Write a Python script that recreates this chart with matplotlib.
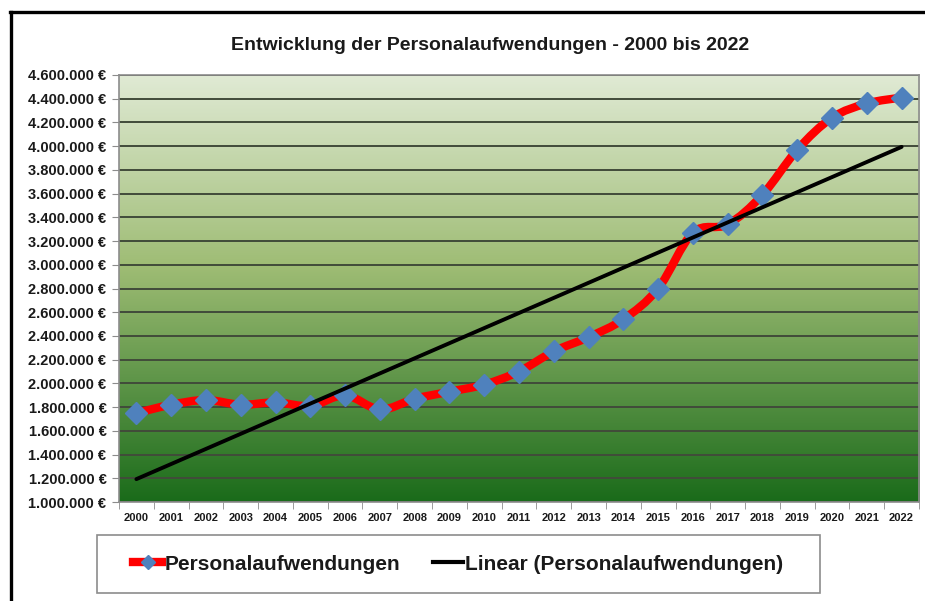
import numpy as np
import matplotlib
matplotlib.use("Agg")
import matplotlib.pyplot as plt
from matplotlib.path import Path
from matplotlib.patches import PathPatch, Rectangle
from matplotlib.lines import Line2D
from matplotlib.colors import LinearSegmentedColormap
from matplotlib.ticker import FuncFormatter, MultipleLocator

plt.rcParams['font.family'] = ['Liberation Sans', 'DejaVu Sans']

# Data
years = [str(y) for y in range(2000, 2023)]
costs = [1750000, 1820000, 1860000, 1820000, 1840000, 1810000, 1900000,
         1780000, 1870000, 1930000, 1990000, 2100000, 2270000, 2390000,
         2540000, 2800000, 3270000, 3340000, 3590000, 3970000, 4240000,
         4360000, 4410000]
series_name = "Personalaufwendungen"
trend_name = "Linear (Personalaufwendungen)"
title = "Entwicklung der Personalaufwendungen - 2000 bis 2022"


def smooth_path(xs, ys):
    """Excel-like smoothed line as cubic Bezier path (Catmull-Rom)."""
    pts = np.column_stack([xs, ys]).astype(float)
    n = len(pts)
    verts = [pts[0]]
    codes = [Path.MOVETO]
    for i in range(n - 1):
        p0 = pts[i - 1] if i > 0 else pts[i]
        p1 = pts[i]
        p2 = pts[i + 1]
        p3 = pts[i + 2] if i + 2 < n else pts[i + 1]
        c1 = p1 + (p2 - p0) / 6.0
        c2 = p2 - (p3 - p1) / 6.0
        verts += [c1, c2, p2]
        codes += [Path.CURVE4] * 3
    return Path(verts, codes)


fig = plt.figure(figsize=(9.25, 6.01), dpi=100)
ax = fig.add_axes([119 / 925, 1 - 502 / 601, 800 / 925, 427 / 601])

x = np.arange(len(years))
vals = np.array(costs, dtype=float)

# gradient background
cmap = LinearSegmentedColormap.from_list(
    "bg", [(0.0, "#1a6b1a"), (0.55, "#9ebc74"), (1.0, "#e0ead4")])
grad = np.linspace(0, 1, 256).reshape(-1, 1)
ax.imshow(grad, cmap=cmap, aspect="auto", origin="lower",
          extent=(0, 1, 0, 1), transform=ax.transAxes, zorder=0)

ax.set_xlim(-0.5, len(years) - 0.5)
ax.set_ylim(1000000, 4600000)

# grid
ax.yaxis.set_major_locator(MultipleLocator(200000))
ax.grid(axis="y", color="#414b3a", linewidth=1.4, zorder=1)
ax.set_axisbelow(True)

# data line (smoothed) + markers
patch = PathPatch(smooth_path(x, vals), facecolor="none", edgecolor="#ff0000",
                  linewidth=6, capstyle="round", joinstyle="round", zorder=3)
ax.add_patch(patch)
ax.plot(x, vals, linestyle="none", marker="D", markersize=11,
        color="#4f81bd", zorder=4)

# linear trend
k, d = np.polyfit(x, vals, 1)
ax.plot(x, k * x + d, color="black", linewidth=2.8, zorder=5,
        solid_capstyle="round")

# axes formatting
ax.yaxis.set_major_formatter(
    FuncFormatter(lambda v, p: f"{v:,.0f} €".replace(",", ".")))
ax.set_xticks(x)
ax.set_xticklabels(years)
ax.set_xticks(np.arange(-0.5, len(years), 1), minor=True)
ax.tick_params(axis="x", which="major", length=0, pad=8,
               labelsize=8, labelcolor="#1a1a1a")
ax.tick_params(axis="x", which="minor", length=5, color="#8c8c8c",
               direction="out")
ax.tick_params(axis="y", length=5, color="#8c8c8c", direction="out",
               labelsize=10.5, labelcolor="#1a1a1a", pad=4)
for lab in ax.get_xticklabels() + ax.get_yticklabels():
    lab.set_fontweight("bold")
for sp in ax.spines.values():
    sp.set_color("#8c8c8c")
    sp.set_linewidth(1.2)

# title
fig.text(490 / 925, 1 - 45 / 601, title, ha="center", va="center",
         fontsize=14, fontweight="bold", color="#1a1a1a")

# legend box
fig.patches.append(Rectangle((97 / 925, 1 - 593 / 601), 723 / 925, 58 / 601,
                             transform=fig.transFigure, facecolor="white",
                             edgecolor="#8c8c8c", linewidth=1.2))
handles = [
    Line2D([], [], color="#ff0000", linewidth=6, marker="D", markersize=7,
           markerfacecolor="#4f81bd", markeredgecolor="#4f81bd"),
    Line2D([], [], color="black", linewidth=3),
]
leg = fig.legend(handles, [series_name, trend_name], loc="center",
                 bbox_to_anchor=(458 / 925, 1 - 564 / 601), ncol=2,
                 frameon=False, handlelength=1.4, handletextpad=0.1,
                 columnspacing=1.6,
                 prop={"weight": "bold", "size": 15})
for t in leg.get_texts():
    t.set_color("#1a1a1a")

# outer frame (left and top black border)
fig.add_artist(Line2D([10 / 925, 1], [1 - 12 / 601, 1 - 12 / 601],
                      transform=fig.transFigure, color="black", linewidth=2.4))
fig.add_artist(Line2D([11 / 925, 11 / 925], [0, 1 - 12 / 601],
                      transform=fig.transFigure, color="black", linewidth=2.4))

fig.savefig("out.png", dpi=100)
